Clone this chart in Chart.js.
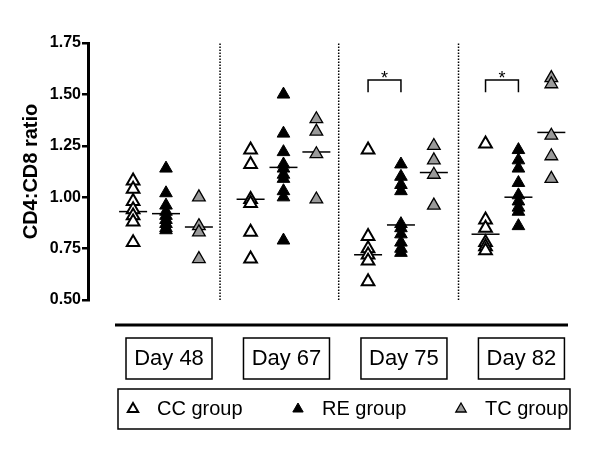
<!DOCTYPE html>
<html>
<head>
<meta charset="utf-8">
<script src="https://cdn.jsdelivr.net/npm/chart.js@4.4.0/dist/chart.umd.min.js"></script>
<style>
  html, body { margin: 0; padding: 0; background: #fff; }
  #wrap { width: 600px; height: 454px; }
</style>
</head>
<body>
<div id="wrap"><canvas id="ratioChart"></canvas></div>
<script>
// values, one row per day
const days = ['Day 48', 'Day 67', 'Day 75', 'Day 82'];
const groupNames = ['CC group', 'RE group', 'TC group'];
const yTicks = [0.50, 0.75, 1.00, 1.25, 1.50, 1.75];

const ccValues = [
  [1.08, 1.04, 0.98, 0.94, 0.91, 0.88, 0.78],
  [1.23, 1.16, 0.99, 0.97, 0.83, 0.70],
  [1.23, 0.81, 0.75, 0.72, 0.69, 0.59],
  [1.26, 0.89, 0.85, 0.78, 0.76, 0.74]
];
const reValues = [
  [1.14, 1.02, 0.96, 0.93, 0.91, 0.89, 0.87, 0.85, 0.84],
  [1.50, 1.31, 1.22, 1.16, 1.14, 1.11, 1.09, 1.03, 1.00, 0.79],
  [1.16, 1.10, 1.06, 1.03, 0.87, 0.85, 0.82, 0.78, 0.75, 0.73],
  [1.23, 1.18, 1.14, 1.07, 1.01, 0.98, 0.95, 0.93, 0.86]
];
const tcValues = [
  [1.00, 0.86, 0.83, 0.70],
  [1.38, 1.32, 1.21, 0.99],
  [1.25, 1.18, 1.11, 0.96],
  [1.58, 1.55, 1.30, 1.20, 1.09]
];

const ccMedian = [0.93, 0.99, 0.72, 0.82];
const reMedian = [0.92, 1.145, 0.865, 1.00];
const tcMedian = [0.855, 1.22, 1.12, 1.315];

// CC vs RE significance marks (day index)
const sigDays = [2, 3];
const sigTop = 1.57;
const sigBottom = 1.51;

// dotted separators between days (x in day units)
const separators = [0.46, 1.47, 2.49];

const offsets = [-0.28, 0, 0.28];
const FONT = "'Liberation Sans', Arial, sans-serif";

function toPoints(rows, offset) {
    const pts = [];
    rows.forEach((vals, i) => vals.forEach(v => pts.push({ x: i + offset, y: v })));
    return pts;
}

function medianPoints(meds, offset) {
    return meds.map((v, i) => ({ x: i + offset, y: v }));
}

const styles = [
    { bg: '#ffffff', border: '#000000', bw: 2 },
    { bg: '#000000', border: '#000000', bw: 1 },
    { bg: '#9a9a9a', border: '#000000', bw: 1.3 }
];

const datasets = [];

separators.forEach(s => {
    datasets.push({
        data: [{ x: s, y: 0.5 }, { x: s, y: 1.75 }],
        showLine: true,
        borderColor: '#000',
        borderWidth: 1.5,
        borderDash: [1.5, 1.5],
        pointRadius: 0
    });
});

sigDays.forEach(d => {
    datasets.push({
        data: [
            { x: d + offsets[0], y: sigBottom },
            { x: d + offsets[0], y: sigTop },
            { x: d + offsets[1], y: sigTop },
            { x: d + offsets[1], y: sigBottom }
        ],
        showLine: true,
        borderColor: '#000',
        borderWidth: 1.5,
        pointRadius: 0
    });
});

[ccValues, reValues, tcValues].forEach((rows, g) => {
    datasets.push({
        label: groupNames[g],
        data: toPoints(rows, offsets[g]),
        pointStyle: 'triangle',
        pointRadius: 7.3,
        backgroundColor: styles[g].bg,
        borderColor: styles[g].border,
        borderWidth: styles[g].bw
    });
});

[ccMedian, reMedian, tcMedian].forEach((meds, g) => {
    datasets.push({
        data: medianPoints(meds, offsets[g]),
        pointStyle: 'line',
        pointRadius: 14,
        borderColor: '#000',
        borderWidth: 1.5
    });
});

const extras = {
    id: 'extras',
    afterDraw(chart) {
        const ctx = chart.ctx;
        const xs = chart.scales.x;
        const ys = chart.scales.y;
        const area = chart.chartArea;
        ctx.save();

        // significance stars
        ctx.fillStyle = '#000';
        ctx.font = '18px ' + FONT;
        ctx.textAlign = 'center';
        ctx.textBaseline = 'alphabetic';
        sigDays.forEach(d => {
            const mid = (xs.getPixelForValue(d + offsets[0]) + xs.getPixelForValue(d + offsets[1])) / 2;
            ctx.fillText('*', mid, ys.getPixelForValue(sigTop) + 4);
        });

        // long line under the plot
        const lineY = area.bottom + 25;
        ctx.strokeStyle = '#000';
        ctx.lineWidth = 3;
        ctx.beginPath();
        ctx.moveTo(115, lineY);
        ctx.lineTo(568, lineY);
        ctx.stroke();

        // day boxes
        ctx.lineWidth = 1.5;
        ctx.font = '22px ' + FONT;
        ctx.textBaseline = 'middle';
        days.forEach((d, i) => {
            const cx = xs.getPixelForValue(i) + 3;
            ctx.strokeRect(cx - 43, 338, 86, 41);
            ctx.fillText(d, cx, 359);
        });

        // legend
        ctx.strokeRect(118, 389, 452, 40);
        ctx.font = '20px ' + FONT;
        ctx.textAlign = 'left';
        const legendX = [133, 298, 461];
        groupNames.forEach((name, g) => {
            ctx.fillStyle = styles[g].bg;
            ctx.strokeStyle = styles[g].border;
            ctx.lineWidth = styles[g].bw;
            Chart.helpers.drawPoint(ctx, { pointStyle: 'triangle', radius: 6, rotation: 0, borderWidth: styles[g].bw }, legendX[g], 409);
            ctx.fillStyle = '#000';
            ctx.fillText(name, legendX[g] + 24, 409);
        });
        ctx.restore();
    }
};

new Chart(document.getElementById('ratioChart'), {
    type: 'scatter',
    data: { datasets: datasets },
    options: {
        responsive: true,
        maintainAspectRatio: false,
        animation: false,
        layout: { padding: { top: 43, right: 24, bottom: 154, left: 0 } },
        plugins: {
            legend: { display: false },
            tooltip: { enabled: false }
        },
        scales: {
            x: {
                type: 'linear',
                display: false,
                min: -0.664,
                max: 3.49
            },
            y: {
                min: 0.5,
                max: 1.75,
                afterBuildTicks: axis => { axis.ticks = yTicks.map(v => ({ value: v })); },
                afterFit: axis => { axis.width = 88; },
                ticks: {
                    color: '#000',
                    padding: 1,
                    font: { family: FONT, size: 16, weight: 'bold' },
                    callback: v => v.toFixed(2)
                },
                grid: {
                    drawOnChartArea: false,
                    drawTicks: true,
                    tickLength: 6,
                    color: '#000',
                    lineWidth: 2.5
                },
                border: { display: true, color: '#000', width: 3 },
                title: {
                    display: true,
                    text: 'CD4:CD8 ratio',
                    color: '#000',
                    font: { family: FONT, size: 20, weight: 'bold' },
                    padding: { top: 19, bottom: 0 }
                }
            }
        }
    },
    plugins: [extras]
});
</script>
</body>
</html>
